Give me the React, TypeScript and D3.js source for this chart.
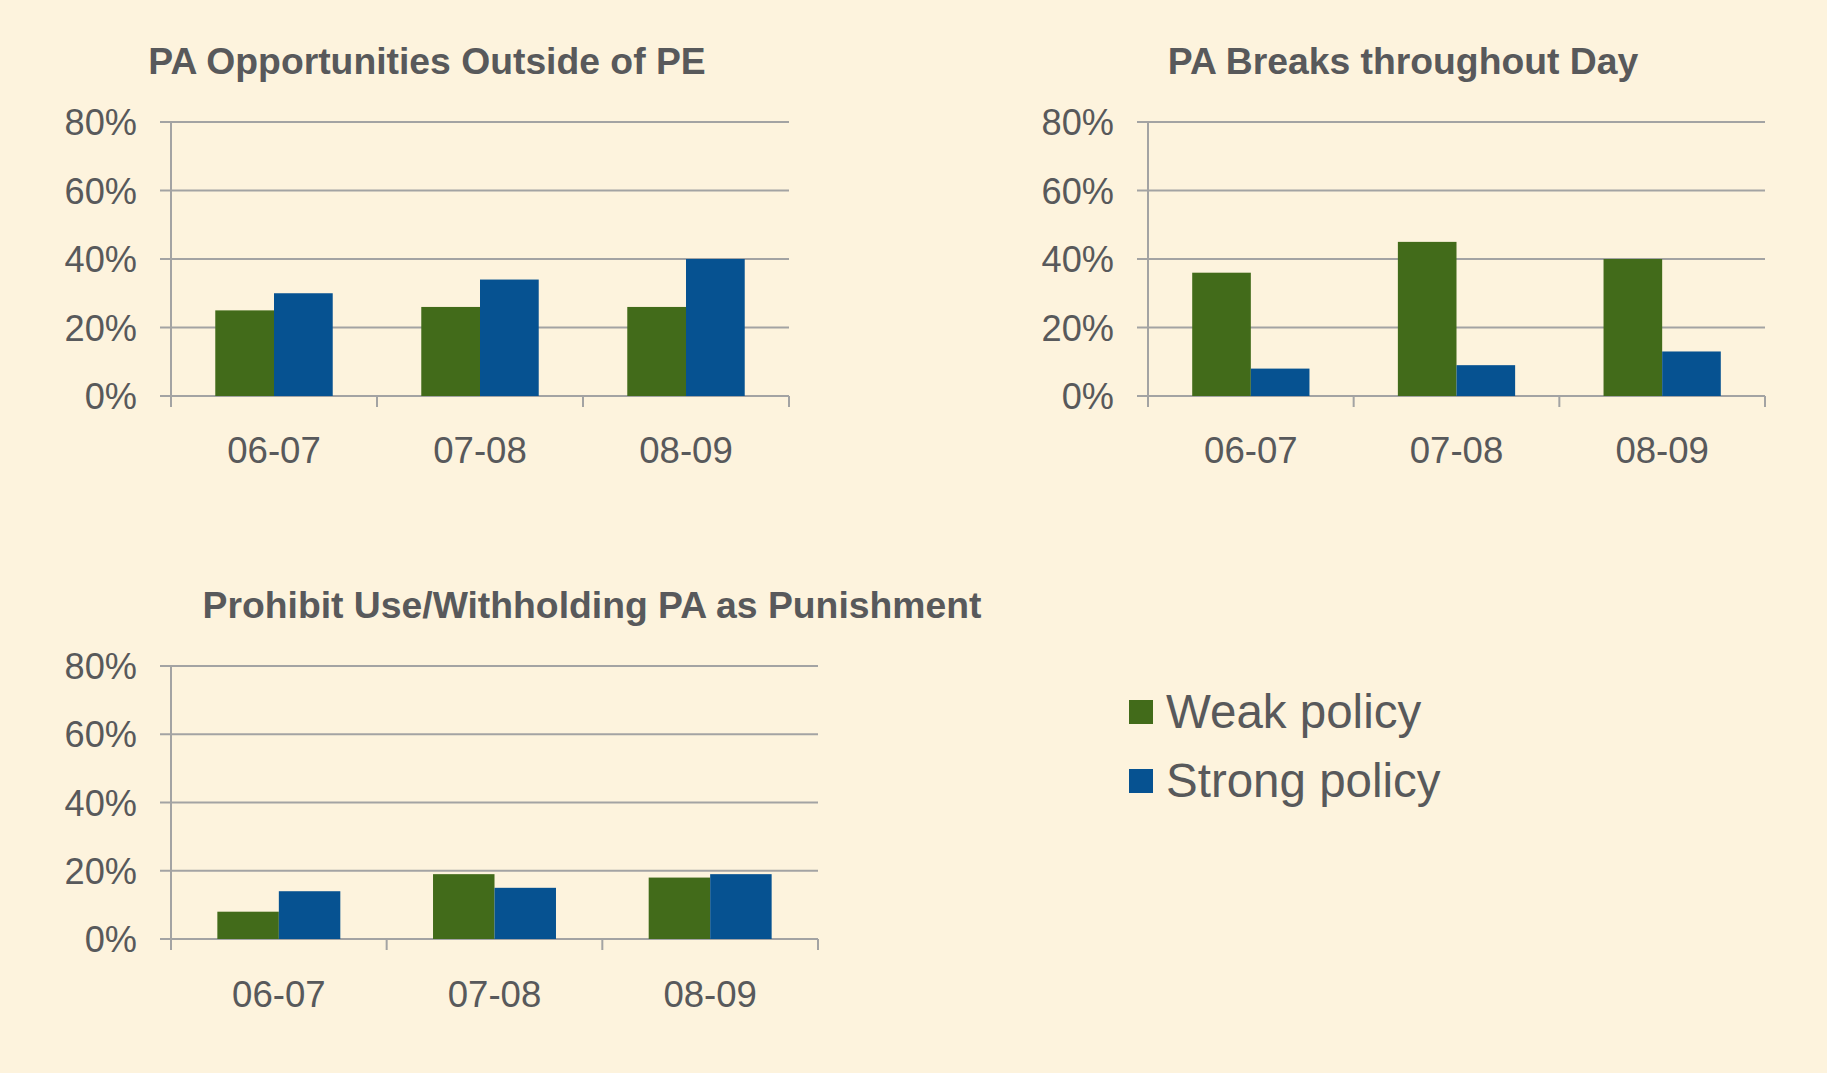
import React from "react";
import * as d3 from "d3";

const categories = ["06-07", "07-08", "08-09"];
const seriesNames = ["Weak policy", "Strong policy"];
const yTicks = [0, 20, 40, 60, 80];

const titleOpportunities = "PA Opportunities Outside of PE";
const weakOpportunities = [25, 26, 26];
const strongOpportunities = [30, 34, 40];

const titleBreaks = "PA Breaks throughout Day";
const weakBreaks = [36, 45, 40];
const strongBreaks = [8, 9, 13];

const titlePunishment = "Prohibit Use/Withholding PA as Punishment";
const weakPunishment = [8, 19, 18];
const strongPunishment = [14, 15, 19];

const COLORS = ["#426B1A", "#065291"];
const GRID = "#A3A3A3";
const TEXT = "#58595B";
const BG = "#FDF3DD";
const FONT = "'Liberation Sans', Arial, sans-serif";

type PanelProps = {
  title: string;
  weak: number[];
  strong: number[];
  x0: number;
  x1: number;
  yTop: number;
  yBottom: number;
  titleX: number;
  titleY: number;
  labelY: number;
};

function Panel({ title, weak, strong, x0, x1, yTop, yBottom, titleX, titleY, labelY }: PanelProps) {
  const x = d3.scaleBand<string>().domain(categories).range([x0, x1]).padding(0);
  const inner = d3
    .scaleBand<string>()
    .domain(seriesNames)
    .range([0, x.bandwidth()])
    .paddingInner(0)
    .paddingOuter(0.754);
  const y = d3.scaleLinear().domain([0, 80]).range([yBottom, yTop]);
  const values = [weak, strong];
  const tick = 11;
  return (
    <g>
      <text
        x={titleX}
        y={titleY}
        textAnchor="middle"
        fontFamily={FONT}
        fontWeight="bold"
        fontSize={37.3}
        fill={TEXT}
      >
        {title}
      </text>
      {yTicks.map((t) => (
        <g key={t}>
          <line x1={x0 - tick} x2={x1} y1={y(t)} y2={y(t)} stroke={GRID} strokeWidth={2} />
          <text
            x={x0 - 34}
            y={y(t)}
            dy="0.36em"
            textAnchor="end"
            fontFamily={FONT}
            fontSize={36.2}
            fill={TEXT}
          >
            {t + "%"}
          </text>
        </g>
      ))}
      <line x1={x0} x2={x0} y1={yTop} y2={yBottom + tick} stroke={GRID} strokeWidth={2} />
      {categories.map((c, i) => (
        <line
          key={"t" + c}
          x1={x0 + x.step() * (i + 1)}
          x2={x0 + x.step() * (i + 1)}
          y1={yBottom}
          y2={yBottom + tick}
          stroke={GRID}
          strokeWidth={2}
        />
      ))}
      {categories.map((c, i) =>
        seriesNames.map((s, j) => {
          const v = values[j][i];
          return (
            <rect
              key={c + s}
              x={(x(c) as number) + (inner(s) as number)}
              y={y(v)}
              width={inner.bandwidth()}
              height={yBottom - y(v)}
              fill={COLORS[j]}
            />
          );
        })
      )}
      {categories.map((c) => (
        <text
          key={"l" + c}
          x={(x(c) as number) + x.bandwidth() / 2}
          y={labelY}
          dy="0.36em"
          textAnchor="middle"
          fontFamily={FONT}
          fontSize={36.6}
          fill={TEXT}
        >
          {c}
        </text>
      ))}
    </g>
  );
}

export default function App() {
  return (
    <svg
      width={1827}
      height={1073}
      style={{ position: "absolute", left: 0, top: 0, display: "block" }}
    >
      <rect x={0} y={0} width={1827} height={1073} fill={BG} />
      <Panel
        title={titleOpportunities}
        weak={weakOpportunities}
        strong={strongOpportunities}
        x0={171}
        x1={789}
        yTop={122}
        yBottom={396}
        titleX={427}
        titleY={74}
        labelY={450}
      />
      <Panel
        title={titleBreaks}
        weak={weakBreaks}
        strong={strongBreaks}
        x0={1148}
        x1={1765}
        yTop={122}
        yBottom={396}
        titleX={1403}
        titleY={74}
        labelY={450}
      />
      <Panel
        title={titlePunishment}
        weak={weakPunishment}
        strong={strongPunishment}
        x0={171}
        x1={818}
        yTop={666}
        yBottom={939}
        titleX={592}
        titleY={618}
        labelY={994}
      />
      {seriesNames.map((s, j) => (
        <g key={s}>
          <rect x={1129} y={700 + j * 69} width={24} height={24} fill={COLORS[j]} />
          <text x={1166} y={728 + j * 69} fontFamily={FONT} fontSize={47.5} fill={TEXT}>
            {s}
          </text>
        </g>
      ))}
    </svg>
  );
}
